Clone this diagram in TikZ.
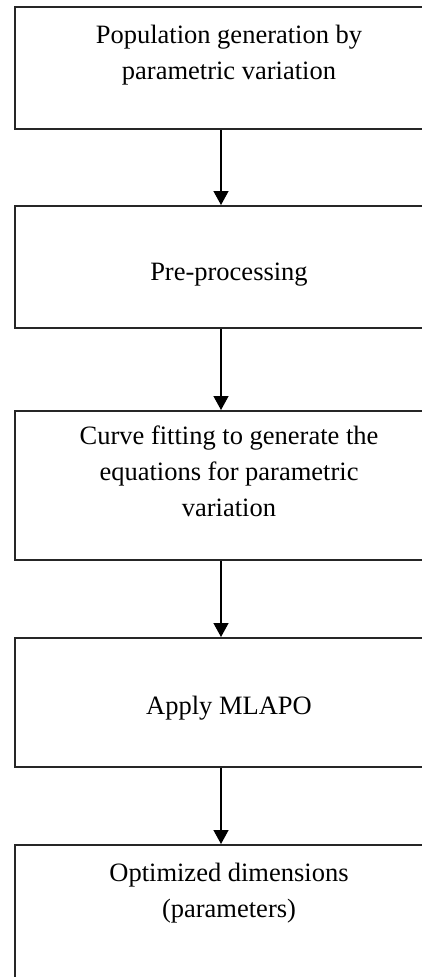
\documentclass[tikz,border=0pt]{standalone}
\usepackage{fontspec}
\setmainfont{Liberation Serif}
\usetikzlibrary{arrows.meta}

\begin{document}
\begin{tikzpicture}[x=1pt,y=1pt,
  stage/.style={draw=black!85,line width=1.8pt,inner sep=0pt,anchor=north,font=\fontsize{26.5}{36}\selectfont},
  flow/.style={draw=black,line width=1.4pt,-{Triangle[width=15pt,length=14pt]}}]
  \useasboundingbox (0,0) rectangle (422,-977);
  % boxes (cut off on the right and at the bottom)
  \node[stage] (gen) at (229,-6) {\parbox[t][122pt][t]{428pt}{\centering\vspace*{18pt}Population generation by\\parametric variation}};
  \node[stage] (pre) at (229,-205) {\parbox[t][122pt][t]{428pt}{\centering\vspace*{57pt}Pre-processing}};
  \node[stage] (fit) at (229,-410) {\parbox[t][149pt][t]{428pt}{\centering\vspace*{15pt}Curve fitting to generate the\\equations for parametric\\variation}};
  \node[stage] (mlapo) at (229,-637) {\parbox[t][129pt][t]{428pt}{\centering\vspace*{58pt}Apply MLAPO}};
  \node[stage] (opt) at (229,-844) {\parbox[t][150pt][t]{428pt}{\centering\vspace*{18pt}Optimized dimensions\\(parameters)}};
  % arrows
  \foreach \a/\b in {gen/pre,pre/fit,fit/mlapo,mlapo/opt}
    \draw[flow] ([xshift=-8pt]\a.south) -- ([xshift=-8pt]\b.north);
\end{tikzpicture}
\end{document}
